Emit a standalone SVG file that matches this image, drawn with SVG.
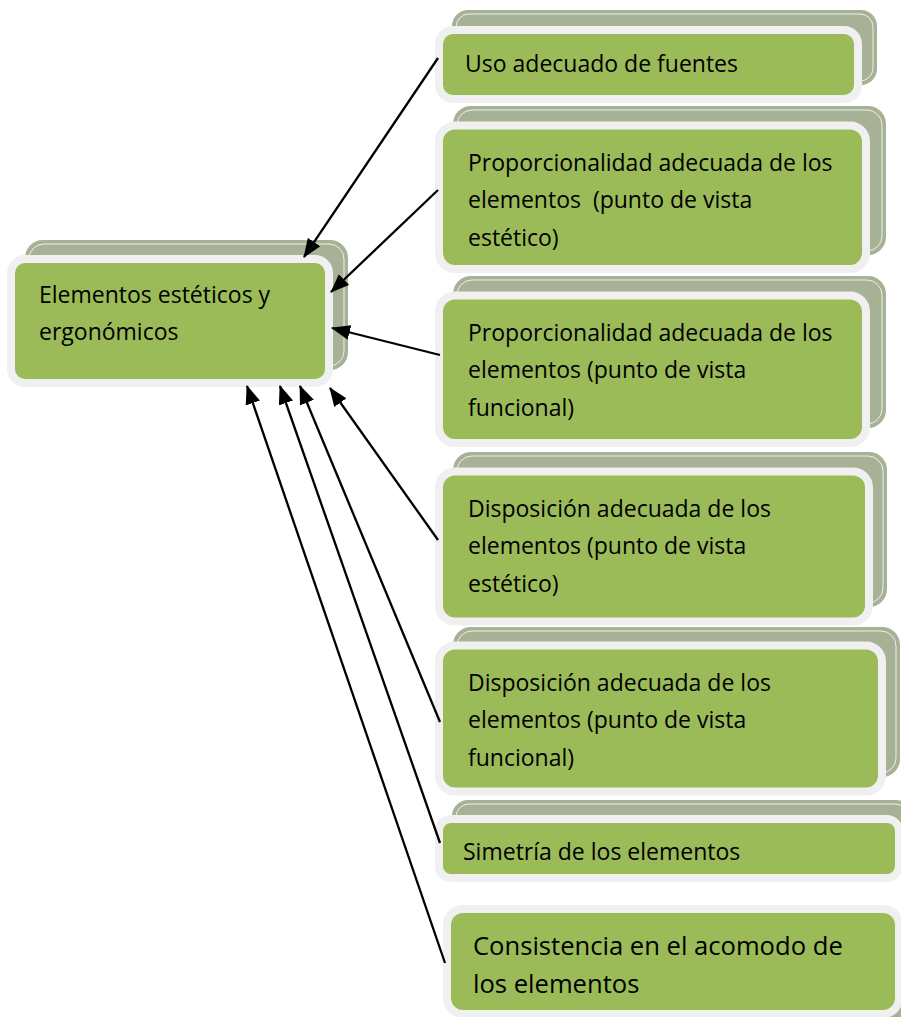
<svg xmlns="http://www.w3.org/2000/svg" width="901" height="1017" viewBox="0 0 901 1017">
<defs>
<style>
.sh{fill:#a7b195;}
.shl{fill:none;stroke:#ffffff;stroke-width:1;opacity:0.8;}
.fr{fill:#9bbb59;stroke:#f0f0f0;stroke-width:8;}
.t{font-family:"Open Sans","Liberation Sans",sans-serif;font-size:23px;fill:#000;}
.tb{font-family:"Open Sans","Liberation Sans",sans-serif;font-size:25.6px;fill:#000;}
.c{stroke:#000;stroke-width:2.3;fill:none;marker-end:url(#ah);}
</style>
<marker id="ah" markerUnits="userSpaceOnUse" markerWidth="19" markerHeight="15" refX="18" refY="7.5" orient="auto">
<path d="M0,0 L19,7.5 L0,15 Z" fill="#000"/>
</marker>
</defs>
<rect width="901" height="1017" fill="#ffffff"/>

<g id="n0">
<rect class="sh" x="25" y="240" width="323" height="130" rx="18"/>
<rect class="shl" x="29" y="244" width="315" height="122" rx="15"/>
<rect class="fr" x="11" y="259" width="318" height="124" rx="14"/>
<text class="t" x="39" y="303">Elementos estéticos y</text>
<text class="t" x="39" y="340">ergonómicos</text>
</g>

<g id="n1">
<rect class="sh" x="452" y="10" width="425" height="75" rx="16"/>
<rect class="shl" x="456" y="14" width="417" height="67" rx="13"/>
<rect class="fr" x="439" y="30" width="419" height="69" rx="14"/>
<text class="t" x="465" y="72">Uso adecuado de fuentes</text>
</g>

<g id="n2">
<rect class="sh" x="453" y="106" width="433" height="149" rx="18"/>
<rect class="shl" x="457" y="110" width="425" height="141" rx="15"/>
<rect class="fr" x="439" y="125.5" width="427" height="143.5" rx="16"/>
<text class="t" x="468" y="171">Proporcionalidad adecuada de los</text>
<text class="t" x="468" y="208" xml:space="preserve">elementos  (punto de vista</text>
<text class="t" x="468" y="246">estético)</text>
</g>

<g id="n3">
<rect class="sh" x="453" y="276" width="433" height="152" rx="18"/>
<rect class="shl" x="457" y="280" width="425" height="144" rx="15"/>
<rect class="fr" x="439" y="295.5" width="427" height="147.5" rx="16"/>
<text class="t" x="468" y="341">Proporcionalidad adecuada de los</text>
<text class="t" x="468" y="378">elementos (punto de vista</text>
<text class="t" x="468" y="416">funcional)</text>
</g>

<g id="n4">
<rect class="sh" x="453" y="452" width="434" height="155" rx="18"/>
<rect class="shl" x="457" y="456" width="426" height="147" rx="15"/>
<rect class="fr" x="439" y="471.5" width="430" height="150" rx="16"/>
<text class="t" x="468" y="517">Disposición adecuada de los</text>
<text class="t" x="468" y="554">elementos (punto de vista</text>
<text class="t" x="468" y="592">estético)</text>
</g>

<g id="n5">
<rect class="sh" x="453" y="627" width="447" height="150" rx="18"/>
<rect class="shl" x="457" y="631" width="439" height="142" rx="15"/>
<rect class="fr" x="439" y="645.5" width="443" height="146" rx="16"/>
<text class="t" x="468" y="691">Disposición adecuada de los</text>
<text class="t" x="468" y="728">elementos (punto de vista</text>
<text class="t" x="468" y="766">funcional)</text>
</g>

<g id="n6">
<rect class="sh" x="452" y="800" width="460" height="70" rx="16"/>
<rect class="shl" x="456" y="804" width="452" height="62" rx="13"/>
<rect class="fr" x="439" y="819" width="460" height="59" rx="12"/>
<text class="t" x="463" y="860">Simetría de los elementos</text>
</g>

<g id="n7">
<rect class="sh" x="470" y="925" width="440" height="95" rx="16"/>
<rect class="fr" x="447" y="909" width="452" height="105" rx="16"/>
<text class="tb" x="473" y="955">Consistencia en el acomodo de</text>
<text class="tb" x="473" y="993">los elementos</text>
</g>

<g id="connectors">
<line class="c" x1="438" y1="58" x2="304" y2="257"/>
<line class="c" x1="438" y1="190" x2="331" y2="292"/>
<line class="c" x1="440" y1="355" x2="332" y2="328"/>
<line class="c" x1="438" y1="540" x2="330" y2="388"/>
<line class="c" x1="440" y1="722" x2="300" y2="386"/>
<line class="c" x1="440" y1="843" x2="280" y2="386"/>
<line class="c" x1="445" y1="963" x2="247" y2="386"/>
</g>
</svg>
